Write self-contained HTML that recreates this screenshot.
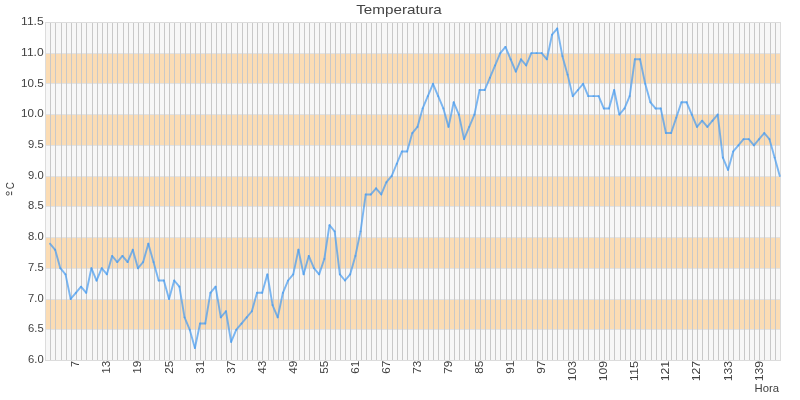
<!DOCTYPE html>
<html><head><meta charset="utf-8"><style>html,body{margin:0;padding:0;background:#fff;width:800px;height:400px;overflow:hidden}svg{display:block;will-change:transform}</style></head>
<body><svg width="800" height="400" viewBox="0 0 800 400">
<rect width="800" height="400" fill="#ffffff"/>
<rect x="45" y="22" width="736" height="339" fill="#f7f7f7"/>
<rect x="45" y="300" width="735" height="29" fill="#fbdcb4"/>
<rect x="45" y="238" width="735" height="30" fill="#fbdcb4"/>
<rect x="45" y="177" width="735" height="29" fill="#fbdcb4"/>
<rect x="45" y="115" width="735" height="30" fill="#fbdcb4"/>
<rect x="45" y="54" width="735" height="29" fill="#fbdcb4"/>
<path d="M45 329.5H780M45 299.5H780M45 268.5H780M45 237.5H780M45 206.5H780M45 176.5H780M45 145.5H780M45 114.5H780M45 83.5H780M45 53.5H780" stroke="#e2e2e2" stroke-width="1" fill="none" shape-rendering="crispEdges"/>
<path d="M50.5 22V360.5M55.5 22V360.5M61.5 22V360.5M66.5 22V360.5M71.5 22V360.5M76.5 22V360.5M81.5 22V360.5M86.5 22V360.5M92.5 22V360.5M97.5 22V360.5M102.5 22V360.5M107.5 22V360.5M112.5 22V360.5M117.5 22V360.5M123.5 22V360.5M128.5 22V360.5M133.5 22V360.5M138.5 22V360.5M143.5 22V360.5M149.5 22V360.5M154.5 22V360.5M159.5 22V360.5M164.5 22V360.5M169.5 22V360.5M174.5 22V360.5M180.5 22V360.5M185.5 22V360.5M190.5 22V360.5M195.5 22V360.5M200.5 22V360.5M205.5 22V360.5M211.5 22V360.5M216.5 22V360.5M221.5 22V360.5M226.5 22V360.5M231.5 22V360.5M237.5 22V360.5M242.5 22V360.5M247.5 22V360.5M252.5 22V360.5M257.5 22V360.5M262.5 22V360.5M268.5 22V360.5M273.5 22V360.5M278.5 22V360.5M283.5 22V360.5M288.5 22V360.5M293.5 22V360.5M299.5 22V360.5M304.5 22V360.5M309.5 22V360.5M314.5 22V360.5M319.5 22V360.5M325.5 22V360.5M330.5 22V360.5M335.5 22V360.5M340.5 22V360.5M345.5 22V360.5M350.5 22V360.5M356.5 22V360.5M361.5 22V360.5M366.5 22V360.5M371.5 22V360.5M376.5 22V360.5M381.5 22V360.5M387.5 22V360.5M392.5 22V360.5M397.5 22V360.5M402.5 22V360.5M407.5 22V360.5M413.5 22V360.5M418.5 22V360.5M423.5 22V360.5M428.5 22V360.5M433.5 22V360.5M438.5 22V360.5M444.5 22V360.5M449.5 22V360.5M454.5 22V360.5M459.5 22V360.5M464.5 22V360.5M469.5 22V360.5M475.5 22V360.5M480.5 22V360.5M485.5 22V360.5M490.5 22V360.5M495.5 22V360.5M500.5 22V360.5M506.5 22V360.5M511.5 22V360.5M516.5 22V360.5M521.5 22V360.5M526.5 22V360.5M532.5 22V360.5M537.5 22V360.5M542.5 22V360.5M547.5 22V360.5M552.5 22V360.5M557.5 22V360.5M563.5 22V360.5M568.5 22V360.5M573.5 22V360.5M578.5 22V360.5M583.5 22V360.5M588.5 22V360.5M594.5 22V360.5M599.5 22V360.5M604.5 22V360.5M609.5 22V360.5M614.5 22V360.5M620.5 22V360.5M625.5 22V360.5M630.5 22V360.5M635.5 22V360.5M640.5 22V360.5M645.5 22V360.5M651.5 22V360.5M656.5 22V360.5M661.5 22V360.5M666.5 22V360.5M671.5 22V360.5M676.5 22V360.5M682.5 22V360.5M687.5 22V360.5M692.5 22V360.5M697.5 22V360.5M702.5 22V360.5M708.5 22V360.5M713.5 22V360.5M718.5 22V360.5M723.5 22V360.5M728.5 22V360.5M733.5 22V360.5M739.5 22V360.5M744.5 22V360.5M749.5 22V360.5M754.5 22V360.5M759.5 22V360.5M764.5 22V360.5M770.5 22V360.5M775.5 22V360.5" stroke="#c8c8c8" stroke-width="1" fill="none" shape-rendering="crispEdges"/>
<rect x="45.5" y="22.5" width="735" height="338" fill="none" stroke="#dcdcdc" stroke-width="1" shape-rendering="crispEdges"/>
<g stroke="#4a9cf0" stroke-opacity="0.72" stroke-width="1.9" stroke-linecap="round" fill="none"><path d="M49.98 243.64L55.15 249.78"/><path d="M55.15 249.78L60.33 268.22"/><path d="M60.33 268.22L65.50 274.36"/><path d="M65.50 274.36L70.68 298.95"/><path d="M70.68 298.95L75.86 292.80"/><path d="M75.86 292.80L81.03 286.65"/><path d="M81.03 286.65L86.21 292.80"/><path d="M86.21 292.80L91.38 268.22"/><path d="M91.38 268.22L96.56 280.51"/><path d="M96.56 280.51L101.74 268.22"/><path d="M101.74 268.22L106.91 274.36"/><path d="M106.91 274.36L112.09 255.93"/><path d="M112.09 255.93L117.26 262.07"/><path d="M117.26 262.07L122.44 255.93"/><path d="M122.44 255.93L127.62 262.07"/><path d="M127.62 262.07L132.79 249.78"/><path d="M132.79 249.78L137.97 268.22"/><path d="M137.97 268.22L143.15 262.07"/><path d="M143.15 262.07L148.32 243.64"/><path d="M148.32 243.64L153.50 262.07"/><path d="M153.50 262.07L158.67 280.51"/><path d="M158.67 280.51L163.85 280.51"/><path d="M163.85 280.51L169.03 298.95"/><path d="M169.03 298.95L174.20 280.51"/><path d="M174.20 280.51L179.38 286.65"/><path d="M179.38 286.65L184.55 317.38"/><path d="M184.55 317.38L189.73 329.67"/><path d="M189.73 329.67L194.91 348.11"/><path d="M194.91 348.11L200.08 323.53"/><path d="M200.08 323.53L205.26 323.53"/><path d="M205.26 323.53L210.43 292.80"/><path d="M210.43 292.80L215.61 286.65"/><path d="M215.61 286.65L220.79 317.38"/><path d="M220.79 317.38L225.96 311.24"/><path d="M225.96 311.24L231.14 341.96"/><path d="M231.14 341.96L236.31 329.67"/><path d="M236.31 329.67L241.49 323.53"/><path d="M241.49 323.53L246.67 317.38"/><path d="M246.67 317.38L251.84 311.24"/><path d="M251.84 311.24L257.02 292.80"/><path d="M257.02 292.80L262.19 292.80"/><path d="M262.19 292.80L267.37 274.36"/><path d="M267.37 274.36L272.55 305.09"/><path d="M272.55 305.09L277.72 317.38"/><path d="M277.72 317.38L282.90 292.80"/><path d="M282.90 292.80L288.07 280.51"/><path d="M288.07 280.51L293.25 274.36"/><path d="M293.25 274.36L298.43 249.78"/><path d="M298.43 249.78L303.60 274.36"/><path d="M303.60 274.36L308.78 255.93"/><path d="M308.78 255.93L313.95 268.22"/><path d="M313.95 268.22L319.13 274.36"/><path d="M319.13 274.36L324.31 259.00"/><path d="M324.31 259.00L329.48 225.20"/><path d="M329.48 225.20L334.66 231.35"/><path d="M334.66 231.35L339.84 274.36"/><path d="M339.84 274.36L345.01 280.51"/><path d="M345.01 280.51L350.19 274.36"/><path d="M350.19 274.36L355.36 255.93"/><path d="M355.36 255.93L360.54 231.35"/><path d="M360.54 231.35L365.72 194.47"/><path d="M365.72 194.47L370.89 194.47"/><path d="M370.89 194.47L376.07 188.33"/><path d="M376.07 188.33L381.24 194.47"/><path d="M381.24 194.47L386.42 182.18"/><path d="M386.42 182.18L391.60 176.04"/><path d="M391.60 176.04L396.77 163.75"/><path d="M396.77 163.75L401.95 151.45"/><path d="M401.95 151.45L407.12 151.45"/><path d="M407.12 151.45L412.30 133.02"/><path d="M412.30 133.02L417.48 126.87"/><path d="M417.48 126.87L422.65 108.44"/><path d="M422.65 108.44L427.83 96.15"/><path d="M427.83 96.15L433.00 83.85"/><path d="M433.00 83.85L438.18 96.15"/><path d="M438.18 96.15L443.36 108.44"/><path d="M443.36 108.44L448.53 126.87"/><path d="M448.53 126.87L453.71 102.29"/><path d="M453.71 102.29L458.88 114.58"/><path d="M458.88 114.58L464.06 139.16"/><path d="M464.06 139.16L469.24 126.87"/><path d="M469.24 126.87L474.41 114.58"/><path d="M474.41 114.58L479.59 90.00"/><path d="M479.59 90.00L484.76 90.00"/><path d="M484.76 90.00L489.94 77.71"/><path d="M489.94 77.71L495.12 65.42"/><path d="M495.12 65.42L500.29 53.13"/><path d="M500.29 53.13L505.47 46.98"/><path d="M505.47 46.98L510.65 59.27"/><path d="M510.65 59.27L515.82 71.56"/><path d="M515.82 71.56L521.00 59.27"/><path d="M521.00 59.27L526.17 65.42"/><path d="M526.17 65.42L531.35 53.13"/><path d="M531.35 53.13L536.53 53.13"/><path d="M536.53 53.13L541.70 53.13"/><path d="M541.70 53.13L546.88 59.27"/><path d="M546.88 59.27L552.05 34.69"/><path d="M552.05 34.69L557.23 28.55"/><path d="M557.23 28.55L562.41 56.20"/><path d="M562.41 56.20L567.58 74.64"/><path d="M567.58 74.64L572.76 96.15"/><path d="M572.76 96.15L577.93 90.00"/><path d="M577.93 90.00L583.11 83.85"/><path d="M583.11 83.85L588.29 96.15"/><path d="M588.29 96.15L593.46 96.15"/><path d="M593.46 96.15L598.64 96.15"/><path d="M598.64 96.15L603.81 108.44"/><path d="M603.81 108.44L608.99 108.44"/><path d="M608.99 108.44L614.17 90.00"/><path d="M614.17 90.00L619.34 114.58"/><path d="M619.34 114.58L624.52 108.44"/><path d="M624.52 108.44L629.69 96.15"/><path d="M629.69 96.15L634.87 59.27"/><path d="M634.87 59.27L640.05 59.27"/><path d="M640.05 59.27L645.22 83.85"/><path d="M645.22 83.85L650.40 102.29"/><path d="M650.40 102.29L655.57 108.44"/><path d="M655.57 108.44L660.75 108.44"/><path d="M660.75 108.44L665.93 133.02"/><path d="M665.93 133.02L671.10 133.02"/><path d="M671.10 133.02L676.28 117.65"/><path d="M676.28 117.65L681.45 102.29"/><path d="M681.45 102.29L686.63 102.29"/><path d="M686.63 102.29L691.81 114.58"/><path d="M691.81 114.58L696.98 126.87"/><path d="M696.98 126.87L702.16 120.73"/><path d="M702.16 120.73L707.34 126.87"/><path d="M707.34 126.87L712.51 120.73"/><path d="M712.51 120.73L717.69 114.58"/><path d="M717.69 114.58L722.86 157.60"/><path d="M722.86 157.60L728.04 169.89"/><path d="M728.04 169.89L733.22 151.45"/><path d="M733.22 151.45L738.39 145.31"/><path d="M738.39 145.31L743.57 139.16"/><path d="M743.57 139.16L748.74 139.16"/><path d="M748.74 139.16L753.92 145.31"/><path d="M753.92 145.31L759.10 139.16"/><path d="M759.10 139.16L764.27 133.02"/><path d="M764.27 133.02L769.45 139.16"/><path d="M769.45 139.16L774.62 157.60"/><path d="M774.62 157.60L779.80 176.04"/></g>
<g font-family="Liberation Sans, sans-serif" font-size="11" fill="#404040"><text x="43.7" y="363.10" text-anchor="end" textLength="15.6" lengthAdjust="spacingAndGlyphs">6.0</text>
<text x="43.7" y="332.37" text-anchor="end" textLength="15.6" lengthAdjust="spacingAndGlyphs">6.5</text>
<text x="43.7" y="301.65" text-anchor="end" textLength="15.6" lengthAdjust="spacingAndGlyphs">7.0</text>
<text x="43.7" y="270.92" text-anchor="end" textLength="15.6" lengthAdjust="spacingAndGlyphs">7.5</text>
<text x="43.7" y="240.19" text-anchor="end" textLength="15.6" lengthAdjust="spacingAndGlyphs">8.0</text>
<text x="43.7" y="209.46" text-anchor="end" textLength="15.6" lengthAdjust="spacingAndGlyphs">8.5</text>
<text x="43.7" y="178.74" text-anchor="end" textLength="15.6" lengthAdjust="spacingAndGlyphs">9.0</text>
<text x="43.7" y="148.01" text-anchor="end" textLength="15.6" lengthAdjust="spacingAndGlyphs">9.5</text>
<text x="43.7" y="117.28" text-anchor="end" textLength="22.6" lengthAdjust="spacingAndGlyphs">10.0</text>
<text x="43.7" y="86.55" text-anchor="end" textLength="22.6" lengthAdjust="spacingAndGlyphs">10.5</text>
<text x="43.7" y="55.83" text-anchor="end" textLength="22.6" lengthAdjust="spacingAndGlyphs">11.0</text>
<text x="43.7" y="25.10" text-anchor="end" textLength="22.6" lengthAdjust="spacingAndGlyphs">11.5</text>
<text transform="translate(79.36,360.8) rotate(-90)" text-anchor="end">7</text>
<text transform="translate(110.41,360.8) rotate(-90)" text-anchor="end" textLength="13" lengthAdjust="spacingAndGlyphs">13</text>
<text transform="translate(141.47,360.8) rotate(-90)" text-anchor="end" textLength="13" lengthAdjust="spacingAndGlyphs">19</text>
<text transform="translate(172.53,360.8) rotate(-90)" text-anchor="end" textLength="13" lengthAdjust="spacingAndGlyphs">25</text>
<text transform="translate(203.58,360.8) rotate(-90)" text-anchor="end" textLength="13" lengthAdjust="spacingAndGlyphs">31</text>
<text transform="translate(234.64,360.8) rotate(-90)" text-anchor="end" textLength="13" lengthAdjust="spacingAndGlyphs">37</text>
<text transform="translate(265.69,360.8) rotate(-90)" text-anchor="end" textLength="13" lengthAdjust="spacingAndGlyphs">43</text>
<text transform="translate(296.75,360.8) rotate(-90)" text-anchor="end" textLength="13" lengthAdjust="spacingAndGlyphs">49</text>
<text transform="translate(327.81,360.8) rotate(-90)" text-anchor="end" textLength="13" lengthAdjust="spacingAndGlyphs">55</text>
<text transform="translate(358.86,360.8) rotate(-90)" text-anchor="end" textLength="13" lengthAdjust="spacingAndGlyphs">61</text>
<text transform="translate(389.92,360.8) rotate(-90)" text-anchor="end" textLength="13" lengthAdjust="spacingAndGlyphs">67</text>
<text transform="translate(420.98,360.8) rotate(-90)" text-anchor="end" textLength="13" lengthAdjust="spacingAndGlyphs">73</text>
<text transform="translate(452.03,360.8) rotate(-90)" text-anchor="end" textLength="13" lengthAdjust="spacingAndGlyphs">79</text>
<text transform="translate(483.09,360.8) rotate(-90)" text-anchor="end" textLength="13" lengthAdjust="spacingAndGlyphs">85</text>
<text transform="translate(514.15,360.8) rotate(-90)" text-anchor="end" textLength="13" lengthAdjust="spacingAndGlyphs">91</text>
<text transform="translate(545.20,360.8) rotate(-90)" text-anchor="end" textLength="13" lengthAdjust="spacingAndGlyphs">97</text>
<text transform="translate(576.26,360.8) rotate(-90)" text-anchor="end" textLength="20.5" lengthAdjust="spacingAndGlyphs">103</text>
<text transform="translate(607.31,360.8) rotate(-90)" text-anchor="end" textLength="20.5" lengthAdjust="spacingAndGlyphs">109</text>
<text transform="translate(638.37,360.8) rotate(-90)" text-anchor="end" textLength="20.5" lengthAdjust="spacingAndGlyphs">115</text>
<text transform="translate(669.43,360.8) rotate(-90)" text-anchor="end" textLength="20.5" lengthAdjust="spacingAndGlyphs">121</text>
<text transform="translate(700.48,360.8) rotate(-90)" text-anchor="end" textLength="20.5" lengthAdjust="spacingAndGlyphs">127</text>
<text transform="translate(731.54,360.8) rotate(-90)" text-anchor="end" textLength="20.5" lengthAdjust="spacingAndGlyphs">133</text>
<text transform="translate(762.60,360.8) rotate(-90)" text-anchor="end" textLength="20.5" lengthAdjust="spacingAndGlyphs">139</text>
<text x="779" y="392" text-anchor="end" textLength="24.5" lengthAdjust="spacingAndGlyphs">Hora</text>
<text transform="translate(14,189.2) rotate(-90)" textLength="7.2" lengthAdjust="spacingAndGlyphs">C</text>
<ellipse cx="7.75" cy="193.45" rx="1.45" ry="1.75" fill="none" stroke="#404040" stroke-width="0.9"/><rect x="11.1" y="191.5" width="1" height="3.7" fill="#404040"/>
</g>
<text x="399" y="13.8" text-anchor="middle" textLength="85.5" lengthAdjust="spacingAndGlyphs" font-family="Liberation Sans, sans-serif" font-size="13" fill="#444444">Temperatura</text>
</svg></body></html>
